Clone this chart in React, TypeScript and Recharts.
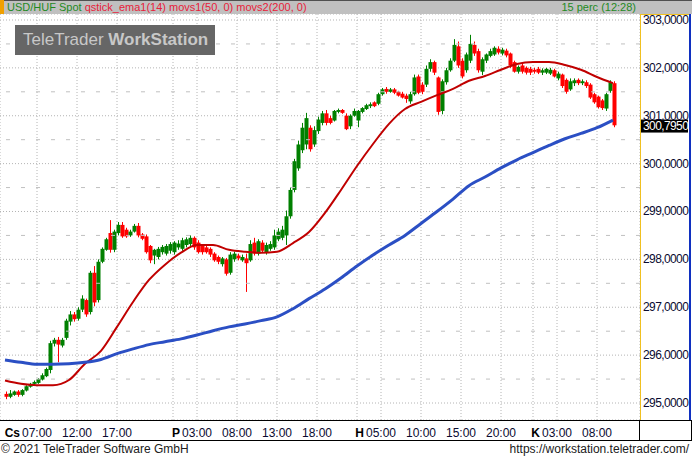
import { ComposedChart, Bar, Line, XAxis, YAxis, CartesianGrid, ReferenceLine } from 'recharts'

// 30-minute candles: [open, high, low, close]
const thursday = [
  [295.19, 295.24, 295.08, 295.13], [295.13, 295.27, 295.1, 295.2], [295.17, 295.26, 295.15, 295.24],
  [295.24, 295.27, 295.13, 295.17], [295.17, 295.29, 295.14, 295.27], [295.26, 295.37, 295.24, 295.35],
  [295.34, 295.42, 295.32, 295.4], [295.4, 295.47, 295.36, 295.44], [295.42, 295.52, 295.4, 295.5],
  [295.49, 295.62, 295.47, 295.58], [295.56, 295.74, 295.54, 295.71], [295.69, 296.3, 295.62, 296.25],
  [296.24, 296.36, 296.18, 296.32], [296.32, 296.38, 295.85, 296.22], [296.2, 296.36, 296.16, 296.32],
  [296.36, 296.76, 296.32, 296.72], [296.7, 296.92, 296.62, 296.85], [296.85, 296.9, 296.7, 296.75],
  [296.76, 297.0, 296.72, 296.95], [296.95, 297.25, 296.9, 297.18], [297.15, 297.18, 296.8, 296.85],
  [296.9, 297.76, 296.85, 297.72], [297.72, 297.86, 297.02, 297.1], [297.15, 298.0, 297.1, 297.95],
  [297.95, 298.25, 297.92, 298.22], [298.2, 298.45, 298.18, 298.42], [298.55, 298.82, 298.14, 298.2],
  [298.2, 298.62, 298.15, 298.58], [298.55, 298.78, 298.5, 298.72], [298.72, 298.78, 298.45, 298.48],
  [298.62, 298.66, 298.45, 298.48], [298.5, 298.62, 298.47, 298.58], [298.58, 298.74, 298.56, 298.7],
  [298.7, 298.76, 298.46, 298.5], [298.52, 298.55, 298.4, 298.43], [298.48, 298.52, 298.12, 298.15],
  [298.28, 298.3, 297.92, 297.98], [298.08, 298.22, 297.9, 298.2], [298.05, 298.26, 298.0, 298.22],
  [298.15, 298.3, 298.1, 298.26], [298.12, 298.32, 298.08, 298.28], [298.18, 298.36, 298.12, 298.32],
]

const friday = [
  [298.15, 298.38, 298.1, 298.35], [298.25, 298.4, 298.2, 298.33], [298.22, 298.45, 298.18, 298.4],
  [298.3, 298.46, 298.25, 298.42], [298.32, 298.5, 298.28, 298.45], [298.45, 298.48, 298.2, 298.25],
  [298.35, 298.4, 298.12, 298.15], [298.28, 298.32, 298.1, 298.15], [298.25, 298.3, 298.12, 298.15],
  [298.22, 298.25, 298.05, 298.1], [298.12, 298.15, 297.95, 297.98], [298.05, 298.08, 297.9, 297.95],
  [297.9, 298.05, 297.85, 298.02], [298.0, 298.03, 297.66, 297.7], [297.72, 298.15, 297.68, 298.1],
  [298.0, 298.16, 297.95, 298.12], [298.08, 298.12, 297.98, 298.02], [297.98, 298.1, 297.95, 298.05],
  [298.02, 298.12, 297.32, 297.92], [297.98, 298.4, 297.95, 298.32], [298.35, 298.45, 298.08, 298.12],
  [298.12, 298.42, 298.08, 298.38], [298.35, 298.4, 298.15, 298.18], [298.15, 298.35, 298.1, 298.3],
  [298.22, 298.38, 298.18, 298.32], [298.25, 298.62, 298.2, 298.5], [298.42, 298.65, 298.38, 298.58],
  [298.45, 298.7, 298.4, 298.62], [298.5, 299.02, 298.3, 298.9], [298.9, 299.5, 298.85, 299.45],
  [299.45, 300.1, 299.4, 300.05], [299.9, 300.48, 299.85, 300.4], [300.28, 300.85, 300.22, 300.75],
  [300.4, 301.06, 300.3, 300.95], [300.75, 300.8, 300.25, 300.3], [300.4, 300.78, 300.35, 300.7],
  [300.68, 300.98, 300.62, 300.92], [300.85, 301.1, 300.8, 301.05], [301.05, 301.12, 300.8, 300.85],
  [300.95, 301.0, 300.82, 300.85], [300.9, 301.12, 300.88, 301.1], [301.08, 301.15, 301.05, 301.12],
  [301.12, 301.14, 301.04, 301.06], [301.0, 301.05, 300.7, 300.72], [300.78, 301.03, 300.72, 301.0],
  [301.0, 301.15, 300.98, 301.1],
]

const monday = [
  [300.9, 301.12, 300.76, 301.1], [301.08, 301.18, 301.05, 301.16], [301.14, 301.25, 301.12, 301.22],
  [301.2, 301.28, 301.16, 301.24], [301.28, 301.3, 301.18, 301.2], [301.25, 301.48, 301.22, 301.45],
  [301.45, 301.58, 301.42, 301.55], [301.56, 301.6, 301.46, 301.5], [301.5, 301.58, 301.48, 301.55],
  [301.55, 301.58, 301.45, 301.48], [301.5, 301.52, 301.4, 301.42], [301.46, 301.5, 301.36, 301.38],
  [301.42, 301.46, 301.27, 301.35], [301.3, 301.5, 301.25, 301.45], [301.45, 301.86, 301.42, 301.8],
  [301.82, 301.86, 301.45, 301.48], [301.65, 301.7, 301.45, 301.5], [301.65, 302.05, 301.6, 301.98],
  [301.98, 302.18, 301.92, 302.12], [302.12, 302.15, 301.85, 301.9], [301.8, 301.82, 301.02, 301.08],
  [301.1, 301.76, 301.03, 301.72], [301.7, 302.0, 301.65, 301.95], [301.95, 302.2, 301.92, 302.15],
  [302.15, 302.6, 302.12, 302.48], [302.45, 302.55, 302.0, 302.05], [302.15, 302.2, 301.78, 301.82],
  [301.95, 302.32, 301.9, 302.28], [302.15, 302.69, 302.1, 302.5], [302.48, 302.55, 302.25, 302.3],
  [302.35, 302.4, 301.9, 301.95], [301.92, 302.22, 301.85, 302.18], [302.15, 302.3, 302.1, 302.28],
  [302.25, 302.4, 302.22, 302.35], [302.28, 302.45, 302.25, 302.42], [302.4, 302.45, 302.28, 302.32],
  [302.3, 302.42, 302.26, 302.38], [302.36, 302.4, 302.22, 302.26], [302.3, 302.32, 302.0, 302.05],
  [302.12, 302.15, 301.9, 301.92], [301.92, 302.05, 301.88, 302.02], [302.05, 302.1, 301.88, 301.92],
  [302.0, 302.03, 301.86, 301.9], [301.98, 302.02, 301.85, 301.9],
]

const tuesday = [
  [301.96, 302.0, 301.88, 301.92], [301.98, 302.02, 301.87, 301.9], [301.9, 301.99, 301.85, 301.95],
  [301.9, 302.0, 301.87, 301.98], [301.88, 302.0, 301.85, 301.96], [301.95, 301.98, 301.8, 301.82],
  [301.78, 301.92, 301.74, 301.88], [301.86, 301.88, 301.58, 301.62], [301.75, 301.78, 301.46, 301.5],
  [301.55, 301.78, 301.52, 301.72], [301.68, 301.78, 301.62, 301.74], [301.75, 301.78, 301.64, 301.68],
  [301.68, 301.76, 301.64, 301.72], [301.7, 301.74, 301.58, 301.62], [301.65, 301.68, 301.35, 301.38],
  [301.45, 301.48, 301.25, 301.28], [301.4, 301.42, 301.15, 301.18], [301.32, 301.35, 301.12, 301.16],
  [301.15, 301.48, 301.1, 301.45], [301.52, 301.74, 301.48, 301.7], [301.68, 301.72, 300.76, 300.8],
]

// first candle of each session, in chart hours (weekend removed)
const sessionStarts = [3, 24, 47, 69]

// moving averages, one value every 2 hours from hour 3
const movs1 = [
  295.47, 295.4, 295.37, 295.37, 295.48, 295.82, 296.09, 296.59, 297.11, 297.57,
  297.89, 298.14, 298.3, 298.3, 298.2, 298.16, 298.14, 298.16, 298.34, 298.57,
  298.97, 299.45, 299.95, 300.41, 300.83, 301.14, 301.29, 301.43, 301.56, 301.73,
  301.83, 301.96, 302.08, 302.12, 302.12, 302.06, 301.96, 301.81, 301.68,
]
const movs2 = [
  295.9, 295.85, 295.81, 295.81, 295.82, 295.85, 295.91, 296.03, 296.13, 296.22,
  296.28, 296.34, 296.42, 296.51, 296.59, 296.65, 296.72, 296.8, 296.97, 297.18,
  297.38, 297.61, 297.86, 298.09, 298.3, 298.5, 298.75, 299.0, 299.26, 299.54,
  299.72, 299.91, 300.08, 300.23, 300.38, 300.52, 300.63, 300.75, 300.91,
]

const gridTimes = [7, 12, 17, 24, 27, 32, 37, 42, 47, 50, 55, 60, 65, 69, 72, 77]
const timeLabels = ['07:00', '12:00', '17:00', '', '03:00', '08:00', '13:00', '18:00', '', '05:00', '10:00', '15:00', '20:00', '', '03:00', '08:00']
const dayLabels = ['Cs', '', '', '', 'P', '', '', '', '', 'H', '', '', '', '', 'K', '']
const priceTicks = [295, 296, 297, 298, 299, 300, 301, 302, 303]
const halfTicks = [295.5, 296.5, 297.5, 298.5, 299.5, 300.5, 301.5, 302.5]
const lastPrice = 300.795

const minorTicks = Array.from({ length: 85 }, (_, i) => +(294.7 + i * 0.1).toFixed(1))

const rows = [thursday, friday, monday, tuesday].flatMap((candles, d) =>
  candles.map(([o, h, l, c], i) => {
    const t = sessionStarts[d] + i * 0.5
    const j = (t - 3) / 2
    const onMa = Number.isInteger(j)
    return {
      t,
      o,
      h,
      l,
      c,
      range: [l, h],
      movs1: onMa ? movs1[j] : null,
      movs2: onMa ? movs2[j] : null,
    }
  })
)

const FONT = "'Liberation Sans', Arial, sans-serif"

function Candle(props: any) {
  const { x, y, width, height, payload } = props
  const { o, h, l, c } = payload
  const color = c > o ? '#008000' : c < o ? '#ff0000' : '#00d8d8'
  const top = Math.min(y, y + height)
  const px = Math.abs(height)
  const span = h - l || 1
  const yOf = (v: number) => top + ((h - v) / span) * px
  const bodyTop = yOf(Math.max(o, c))
  const bodyBot = yOf(Math.min(o, c))
  const cx = Math.round(x + width / 2) + 0.5
  return (
    <g>
      <line x1={cx} x2={cx} y1={top} y2={top + px} stroke={color} strokeWidth={1} />
      <rect x={cx - 2} y={bodyTop} width={4} height={Math.max(1, bodyBot - bodyTop)} fill={color} />
    </g>
  )
}

function PriceTick(props: any) {
  const { x, y, payload } = props
  return (
    <text x={x} y={y} dy={4} fill="#0a0a30" fontSize={12} fontFamily={FONT} letterSpacing={-0.6} textAnchor="start">
      {payload.value.toFixed(4).replace('.', ',')}
    </text>
  )
}

function TimeTick(props: any) {
  const { x, y, payload } = props
  const i = gridTimes.indexOf(payload.value)
  if (i < 0 || !timeLabels[i]) return <g />
  return (
    <g fontFamily={FONT} fontSize={12} fill="#0a0a30">
      {dayLabels[i] && (
        <text x={x - 17} y={y + 17} textAnchor="end" fontWeight="bold" fill="#000">
          {dayLabels[i]}
        </text>
      )}
      <text x={x} y={y + 17} textAnchor="middle">
        {timeLabels[i]}
      </text>
    </g>
  )
}

function LastPriceTag(props: any) {
  const { viewBox } = props
  const yy = viewBox.y
  const x0 = viewBox.x + viewBox.width + 1
  return (
    <g>
      <rect x={x0} y={yy - 6} width={47} height={13} fill="#000" />
      <text x={x0 + 2} y={yy + 4} fill="#fff" fontSize={12} fontFamily={FONT} letterSpacing={-0.6}>
        {lastPrice.toFixed(4).replace('.', ',')}
      </text>
    </g>
  )
}

const noTick = () => <g />

export default function App() {
  return (
    <div style={{ position: 'absolute', left: 0, top: 0, width: 692, height: 458, background: '#fff', overflow: 'hidden', fontFamily: FONT }}>
      <div style={{ position: 'absolute', left: 0, top: 0 }}>
        <ComposedChart width={692} height={440} data={rows} margin={{ top: 14, right: 0, bottom: 0, left: 0 }}>
          <XAxis
            type="number"
            dataKey="t"
            domain={[2.375, 82.375]}
            allowDataOverflow
            ticks={gridTimes}
            interval={0}
            tickLine={false}
            axisLine={false}
            tickSize={0}
            tickMargin={0}
            height={20}
            tick={<TimeTick />}
          />
          <YAxis
            yAxisId="p"
            orientation="right"
            domain={[294.645, 303.125]}
            allowDataOverflow
            ticks={priceTicks}
            interval={0}
            width={52}
            tickLine={false}
            axisLine={false}
            tickSize={0}
            tickMargin={3}
            tick={<PriceTick />}
          />
          <YAxis
            yAxisId="l"
            orientation="left"
            mirror
            width={0}
            domain={[294.645, 303.125]}
            allowDataOverflow
            ticks={minorTicks}
            interval={0}
            tickSize={3}
            tickLine={{ stroke: '#000' }}
            axisLine={false}
            tick={noTick}
          />
          <YAxis
            yAxisId="r"
            orientation="right"
            mirror
            width={0}
            domain={[294.645, 303.125]}
            allowDataOverflow
            ticks={minorTicks}
            interval={0}
            tickSize={3}
            tickLine={{ stroke: '#000' }}
            axisLine={false}
            tick={noTick}
          />
          <CartesianGrid yAxisId="p" stroke="#b4b4b4" strokeDasharray="1 2" />
          {halfTicks.map((v) => (
            <ReferenceLine key={v} yAxisId="p" y={v} stroke="#c0c0c0" strokeDasharray="4 11" />
          ))}
          <Bar yAxisId="p" dataKey="range" barSize={3} shape={<Candle />} isAnimationActive={false} />
          <Line
            yAxisId="p"
            dataKey="movs1"
            type="monotone"
            stroke="#c00000"
            strokeWidth={2}
            dot={false}
            activeDot={false}
            connectNulls
            isAnimationActive={false}
          />
          <Line
            yAxisId="p"
            dataKey="movs2"
            type="monotone"
            stroke="#2b4fc4"
            strokeWidth={3}
            dot={false}
            activeDot={false}
            connectNulls
            isAnimationActive={false}
          />
          <ReferenceLine yAxisId="p" y={lastPrice} stroke="none" ifOverflow="visible" label={<LastPriceTag />} />
        </ComposedChart>
      </div>

      {/* header */}
      <div style={{ position: 'absolute', left: 0, top: 0, width: 692, height: 14, background: '#c0c0c0', borderTop: '1px solid #505050', boxSizing: 'border-box' }} />
      <div style={{ position: 'absolute', left: 0, top: 0, width: 4, height: 14, background: '#f0a000' }} />
      <div style={{ position: 'absolute', left: 7, top: 1, fontSize: 11, lineHeight: '13px', whiteSpace: 'nowrap' }}>
        <span style={{ color: '#1f8a1f' }}>USD/HUF Spot </span>
        <span style={{ color: '#e8203a' }}>qstick_ema1(14) movs1(50, 0) movs2(200, 0)</span>
      </div>
      <div style={{ position: 'absolute', right: 56, top: 1, fontSize: 11, lineHeight: '13px', color: '#1f8a1f', whiteSpace: 'nowrap' }}>
        15 perc (12:28)
      </div>

      {/* price axis frame */}
      <div style={{ position: 'absolute', left: 640, top: 14, width: 1, height: 406, background: '#f0c020' }} />
      <div style={{ position: 'absolute', left: 640, top: 14, width: 50, height: 1, background: '#f0c020' }} />
      <div style={{ position: 'absolute', left: 689, top: 14, width: 2, height: 406, background: '#1030c0' }} />

      {/* time axis frame */}
      <div style={{ position: 'absolute', left: 0, top: 420, width: 692, height: 1, background: '#000' }} />
      <div style={{ position: 'absolute', left: 0, top: 440, width: 692, height: 1, background: '#000' }} />
      <div style={{ position: 'absolute', left: 639, top: 420, width: 1, height: 20, background: '#000' }} />
      <div style={{ position: 'absolute', left: 691, top: 420, width: 1, height: 20, background: '#000' }} />

      {/* logo */}
      <div
        style={{
          position: 'absolute',
          left: 15,
          top: 25,
          width: 200,
          height: 30,
          background: '#666666',
          color: '#c8c8c8',
          fontSize: 17,
          lineHeight: '30px',
          paddingLeft: 8,
          boxSizing: 'border-box',
          whiteSpace: 'nowrap',
        }}
      >
        TeleTrader <b>WorkStation</b>
      </div>

      {/* footer */}
      <div style={{ position: 'absolute', left: 1, top: 442, fontSize: 12, color: '#202020', whiteSpace: 'nowrap' }}>
        © 2021 TeleTrader Software GmbH
      </div>
      <div style={{ position: 'absolute', right: 3, top: 442, fontSize: 12, color: '#202020', whiteSpace: 'nowrap' }}>
        https://workstation.teletrader.com/
      </div>
    </div>
  )
}
